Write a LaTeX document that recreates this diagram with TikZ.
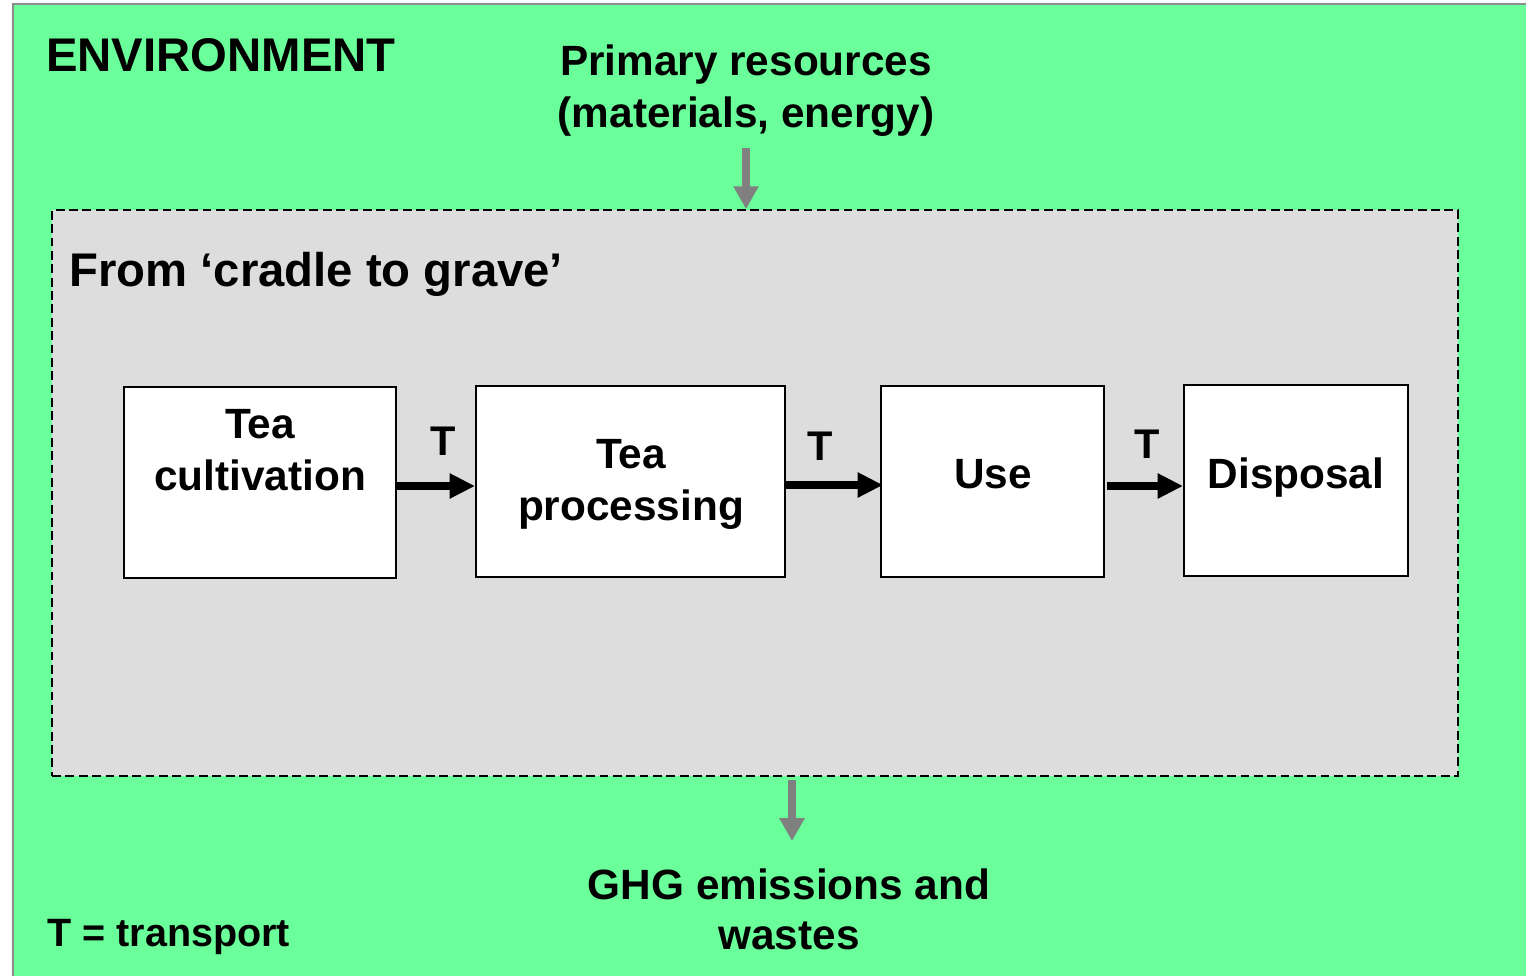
\documentclass[tikz,border=0pt]{standalone}
\usepackage{fontspec}
\setmainfont{Liberation Sans}
\usetikzlibrary{arrows.meta}
\definecolor{envgreen}{RGB}{106,255,154}
\definecolor{lcagray}{RGB}{221,221,221}
\definecolor{arrgray}{RGB}{128,128,128}
\definecolor{framegray}{RGB}{140,140,140}
\begin{document}
\begin{tikzpicture}[x=0.02cm,y=-0.02cm,
  big/.style={font=\fontsize{26.9}{30}\selectfont\bfseries, inner sep=0},
  txt/.style={font=\fontsize{24.1}{29.2}\selectfont\bfseries, align=center, inner sep=0},
  legendtxt/.style={font=\fontsize{22.5}{25}\selectfont\bfseries, inner sep=0},
  ttxt/.style={font=\fontsize{23.6}{25}\selectfont\bfseries, inner sep=0},
  ghgtxt/.style={font=\fontsize{24.1}{28.3}\selectfont\bfseries, align=center, inner sep=0},
  boxtxt/.style={font=\fontsize{24.1}{29.5}\selectfont\bfseries, align=center, inner sep=0},
  stage/.style={draw=black, line width=1.1pt, fill=white, inner sep=0, minimum height=3.82cm},
  flow/.style={line width=4pt, -{Triangle[length=14.5pt,width=13.5pt]}},
  gflow/.style={draw=arrgray, line width=4.5pt, -{Triangle[length=13pt,width=13.6pt]}, arrgray}
]
\useasboundingbox (0,0) rectangle (1526,975);
\fill[white] (0,0) rectangle (1526,975);
\draw[fill=envgreen, draw=framegray, line width=1.5pt] (13,4) rectangle (1560,1010);

% cradle to grave area
\node[draw=black, dashed, dash pattern=on 5pt off 2.6pt, line width=1.1pt, fill=lcagray,
      minimum width=28.12cm, minimum height=11.32cm, inner sep=0] (lca) at (755,493) {};

% texts (base anchor = baseline of the last line)
\node[big, anchor=base west] (env) at (46,71) {ENVIRONMENT};
\node[big, anchor=base west] (title) at (69,286) {From `cradle to grave'};
\node[txt, anchor=base] (prim) at (746,127) {Primary resources\\(materials, energy)};
\node[ghgtxt, anchor=base] (ghg) at (789,949) {GHG emissions and\\wastes};
\node[legendtxt, anchor=base west] (legend) at (47,946) {T = transport};

% stages
\node[stage, minimum width=5.44cm] (b1) at (260,482.5) {};
\node[stage, minimum width=6.18cm] (b2) at (630.5,481.5) {};
\node[stage, minimum width=4.46cm] (b3) at (992.5,481.5) {};
\node[stage, minimum width=4.48cm] (b4) at (1296,480.5) {};

\node[boxtxt, anchor=base] (t1) at (260,490) {Tea\\cultivation};
\node[boxtxt, anchor=base] (t2) at (631,520) {Tea\\processing};
\node[boxtxt, anchor=base] (t3) at (993,488) {Use};
\node[boxtxt, anchor=base] (t4) at (1296,488) {Disposal};

% transport arrows
\draw[flow] (b1.east |- 0,486) -- (b2.west |- 0,486);
\draw[flow] (b2.east |- 0,485) -- ([xshift=0.06cm]b3.west |- 0,485);
\draw[flow] ([xshift=0.04cm]b3.east |- 0,486) -- (b4.west |- 0,486);

\node[ttxt, anchor=base] (T1) at (443,455) {T};
\node[ttxt, anchor=base] (T2) at (820,460) {T};
\node[ttxt, anchor=base] (T3) at (1147,458) {T};

% resource and emission arrows
\coordinate (pin) at (746,148);
\draw[gflow] (pin) -- (pin |- lca.north);
\coordinate (pout) at (792,780);
\coordinate (pend) at (792,841);
\draw[gflow] (pout) -- (pend);
\end{tikzpicture}
\end{document}
